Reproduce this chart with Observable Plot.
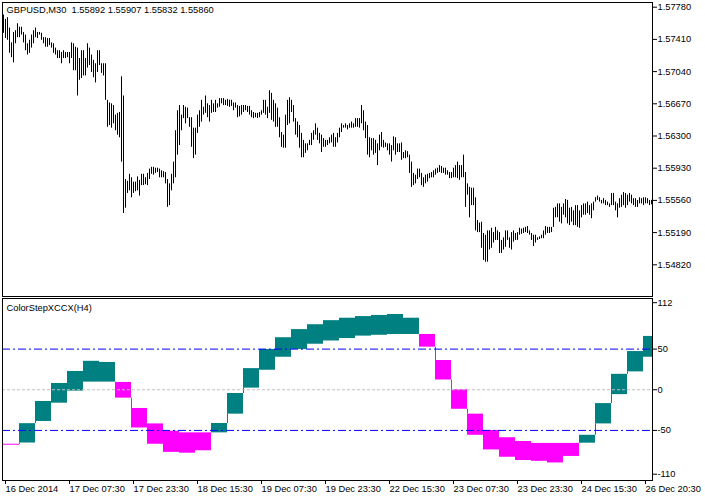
<!DOCTYPE html>
<html><head><meta charset="utf-8">
<script src="https://cdn.jsdelivr.net/npm/d3@7"></script>
<script src="https://cdn.jsdelivr.net/npm/@observablehq/plot@0.6"></script>
<style>
body{margin:0;background:#fff;}
#c{position:relative;width:705px;height:498px;background:#fff;overflow:hidden;}
#top,#bot{position:absolute;left:0;}
#top{top:0px}
#bot{top:296px}
svg{display:block}
</style></head><body>
<div id="c"><div id="top"></div><div id="bot"></div></div>
<script>
const symbolTitle = "GBPUSD,M30\u00a0\u00a01.55892 1.55907 1.55832 1.55860";
const indicatorTitle = "ColorStepXCCX(H4)";

// M30 bars: high / low
const high = [1.5769,1.5764,1.5766,1.5754,1.5737,1.5749,1.5751,1.5759,1.5755,1.5755,
1.5749,1.5746,1.5736,1.5740,1.5746,1.5751,1.5754,1.5749,1.5749,1.5748,
1.5743,1.5743,1.5742,1.5742,1.5737,1.5736,1.5731,1.5728,1.5728,1.5726,
1.5728,1.5726,1.5726,1.5726,1.5737,1.5736,1.5732,1.5731,1.5719,1.5728,
1.5728,1.5719,1.5736,1.5731,1.5723,1.5717,1.5713,1.5728,1.5728,1.5713,
1.5713,1.5713,1.5671,1.5668,1.5667,1.5665,1.5654,1.5656,1.5657,1.5698,
1.5676,1.5580,1.5578,1.5586,1.5582,1.5577,1.5577,1.5583,1.5579,1.5586,
1.5586,1.5582,1.5587,1.5592,1.5594,1.5594,1.5593,1.5593,1.5592,1.5590,
1.5589,1.5588,1.5580,1.5575,1.5586,1.5600,1.5636,1.5659,1.5665,1.5654,
1.5665,1.5663,1.5662,1.5651,1.5651,1.5639,1.5639,1.5654,1.5659,1.5671,
1.5663,1.5676,1.5667,1.5665,1.5671,1.5667,1.5671,1.5667,1.5673,1.5673,
1.5673,1.5671,1.5672,1.5671,1.5671,1.5668,1.5668,1.5665,1.5664,1.5665,
1.5665,1.5665,1.5664,1.5664,1.5659,1.5657,1.5656,1.5656,1.5657,1.5659,
1.5671,1.5671,1.5663,1.5682,1.5679,1.5671,1.5667,1.5662,1.5651,1.5634,
1.5631,1.5654,1.5671,1.5674,1.5671,1.5665,1.5650,1.5646,1.5642,1.5633,
1.5625,1.5621,1.5621,1.5625,1.5633,1.5636,1.5644,1.5639,1.5633,1.5631,
1.5627,1.5625,1.5625,1.5628,1.5631,1.5633,1.5628,1.5633,1.5639,1.5644,
1.5642,1.5644,1.5642,1.5644,1.5646,1.5644,1.5650,1.5650,1.5650,1.5665,
1.5659,1.5646,1.5642,1.5628,1.5627,1.5627,1.5625,1.5621,1.5631,1.5634,
1.5625,1.5622,1.5621,1.5621,1.5619,1.5629,1.5628,1.5621,1.5621,1.5622,
1.5611,1.5613,1.5612,1.5608,1.5600,1.5587,1.5585,1.5592,1.5592,1.5587,
1.5582,1.5585,1.5586,1.5587,1.5588,1.5590,1.5592,1.5593,1.5596,1.5595,
1.5593,1.5593,1.5590,1.5588,1.5588,1.5593,1.5596,1.5600,1.5596,1.5596,
1.5608,1.5588,1.5575,1.5571,1.5570,1.5570,1.5559,1.5533,1.5530,1.5531,
1.5518,1.5516,1.5521,1.5521,1.5524,1.5519,1.5525,1.5521,1.5519,1.5510,
1.5513,1.5521,1.5521,1.5513,1.5519,1.5521,1.5518,1.5519,1.5524,1.5523,
1.5524,1.5525,1.5526,1.5521,1.5518,1.5516,1.5516,1.5513,1.5514,1.5516,
1.5521,1.5526,1.5525,1.5525,1.5525,1.5547,1.5548,1.5552,1.5552,1.5548,
1.5552,1.5557,1.5556,1.5547,1.5548,1.5544,1.5550,1.5550,1.5544,1.5550,
1.5552,1.5552,1.5554,1.5550,1.5552,1.5554,1.5559,1.5561,1.5559,1.5556,
1.5558,1.5556,1.5554,1.5552,1.5564,1.5564,1.5554,1.5552,1.5558,1.5562,
1.5565,1.5564,1.5562,1.5564,1.5562,1.5558,1.5558,1.5556,1.5559,1.5558,
1.5559,1.5559,1.5558,1.5556,1.5556];
const low = [1.5748,1.5742,1.5740,1.5725,1.5720,1.5714,1.5736,1.5743,1.5743,1.5746,
1.5737,1.5728,1.5723,1.5725,1.5731,1.5736,1.5743,1.5742,1.5746,1.5740,
1.5736,1.5732,1.5732,1.5734,1.5731,1.5725,1.5723,1.5719,1.5719,1.5713,
1.5719,1.5719,1.5720,1.5713,1.5719,1.5705,1.5705,1.5676,1.5694,1.5696,
1.5699,1.5699,1.5708,1.5711,1.5703,1.5697,1.5691,1.5703,1.5711,1.5702,
1.5699,1.5671,1.5640,1.5642,1.5639,1.5644,1.5636,1.5631,1.5628,1.5600,
1.5541,1.5547,1.5564,1.5567,1.5559,1.5564,1.5566,1.5567,1.5561,1.5573,
1.5573,1.5574,1.5573,1.5580,1.5586,1.5585,1.5587,1.5588,1.5582,1.5582,
1.5582,1.5575,1.5548,1.5550,1.5567,1.5575,1.5582,1.5608,1.5619,1.5636,
1.5650,1.5644,1.5650,1.5640,1.5617,1.5604,1.5608,1.5633,1.5640,1.5646,
1.5654,1.5656,1.5651,1.5646,1.5656,1.5657,1.5657,1.5662,1.5663,1.5667,
1.5665,1.5665,1.5664,1.5663,1.5664,1.5659,1.5662,1.5651,1.5652,1.5654,
1.5657,1.5659,1.5657,1.5654,1.5651,1.5650,1.5651,1.5650,1.5651,1.5654,
1.5656,1.5654,1.5650,1.5656,1.5648,1.5646,1.5640,1.5640,1.5628,1.5617,
1.5616,1.5616,1.5642,1.5644,1.5657,1.5646,1.5631,1.5628,1.5616,1.5605,
1.5605,1.5610,1.5613,1.5619,1.5619,1.5625,1.5631,1.5625,1.5621,1.5611,
1.5617,1.5617,1.5619,1.5621,1.5622,1.5617,1.5617,1.5622,1.5628,1.5634,
1.5639,1.5639,1.5637,1.5639,1.5639,1.5639,1.5640,1.5640,1.5639,1.5644,
1.5636,1.5627,1.5608,1.5605,1.5613,1.5608,1.5610,1.5596,1.5613,1.5617,
1.5616,1.5617,1.5613,1.5608,1.5600,1.5613,1.5608,1.5611,1.5611,1.5602,
1.5604,1.5604,1.5605,1.5587,1.5571,1.5573,1.5575,1.5580,1.5582,1.5573,
1.5571,1.5575,1.5577,1.5581,1.5582,1.5582,1.5585,1.5587,1.5588,1.5587,
1.5587,1.5585,1.5585,1.5581,1.5581,1.5582,1.5582,1.5581,1.5579,1.5582,
1.5582,1.5548,1.5562,1.5536,1.5550,1.5550,1.5521,1.5519,1.5519,1.5501,
1.5487,1.5485,1.5485,1.5499,1.5501,1.5507,1.5510,1.5510,1.5495,1.5495,
1.5499,1.5502,1.5510,1.5501,1.5499,1.5508,1.5510,1.5510,1.5516,1.5517,
1.5518,1.5519,1.5518,1.5516,1.5510,1.5503,1.5507,1.5510,1.5511,1.5512,
1.5512,1.5516,1.5518,1.5518,1.5519,1.5525,1.5536,1.5536,1.5531,1.5529,
1.5539,1.5536,1.5529,1.5527,1.5531,1.5527,1.5527,1.5525,1.5524,1.5536,
1.5539,1.5539,1.5541,1.5539,1.5535,1.5544,1.5554,1.5556,1.5554,1.5552,
1.5552,1.5550,1.5550,1.5548,1.5550,1.5550,1.5544,1.5536,1.5547,1.5548,
1.5550,1.5547,1.5550,1.5554,1.5552,1.5550,1.5548,1.5548,1.5552,1.5552,
1.5550,1.5552,1.5552,1.5550,1.5551];
const priceTicks = [1.57780,1.57410,1.57040,1.56670,1.56300,1.55930,1.55560,1.55190,1.54820];

// H4 steps of ColorStepXCCX (upper / lower value of each step box, trend colour)
const stepHigh = [-67,-41.7,-14.4,7.7,22.5,35,33.6,9,-23,-42,-51,-53,-53,-41.5,-4.6,26,49.6,64,74,80,85,88,90,91.4,92.6,88,68,36,0,-30,-50,-59,-63.6,-66,-66,-66,-56,-17,19,47,65.6];
const stepLow = [-67,-65.5,-39,-16.5,-1.7,9.4,9.4,-10.3,-47,-67,-77,-78,-75,-53,-30,2,24,40,49.6,56,60,63,66,67,68,68,52.4,12,-24,-56,-74,-83,-87,-88,-90,-82,-65.7,-42,-6,22,40];
const stepTrend = ["down","up","up","up","up","up","up","down","down","down","down","down","down",
"up","up","up","up","up","up","up","up","up","up","up","up","up",
"down","down","down","down","down","down","down","down","down","down",
"up","up","up","up","up"];
const barsPerStep = 8;
const levelLines = [50, -50];
const zeroLine = [0];
const indTicks = [50, 0, -50];
const indTop = 112, indBottom = -110;

const timeTicks = [0,32,64,96,128,160,192,224,256,288,320];
const timeLabels = ["16 Dec 2014","17 Dec 07:30","17 Dec 23:30","18 Dec 15:30","19 Dec 07:30","19 Dec 23:30","22 Dec 15:30","23 Dec 07:30","23 Dec 23:30","24 Dec 15:30","26 Dec 20:30"];

const upColor = "#008080", downColor = "#ff00ff";
const font = "'Liberation Sans', Arial, sans-serif";

const n = high.length;
const bars = high.map((h, i) => ({i, high: h, low: low[i]}));
const steps = stepHigh.map((h, k) => ({
  x1: k * barsPerStep,
  x2: Math.min((k + 1) * barsPerStep, n - 0.5),
  hi: h, lo: stepLow[k],
  color: stepTrend[k] === "up" ? upColor : downColor
}));
const connectors = [];
for (let k = 1; k < steps.length; k++) {
  const p = steps[k - 1], c = steps[k];
  if (p.lo > c.hi) connectors.push({x: c.x1, y1: p.lo, y2: c.hi, color: c.color});
  else if (p.hi < c.lo) connectors.push({x: c.x1, y1: p.hi, y2: c.lo, color: c.color});
}

const xScale = {domain: [0, n - 1], range: [3, 3 + 2 * (n - 1)], axis: null};

const topPlot = Plot.plot({
  width: 705, height: 298,
  marginLeft: 2, marginRight: 53, marginTop: 2, marginBottom: 2,
  style: {fontFamily: font, fontSize: "9.3px", background: "transparent", color: "#000"},
  x: xScale,
  y: {domain: [1.54820, 1.57780], range: [264.3, 6.7], axis: null},
  marks: [
    Plot.ruleX(bars, {x: "i", y1: "low", y2: "high", stroke: "#000", strokeWidth: 1}),
    Plot.frame({stroke: "#000"}),
    Plot.axisY(priceTicks, {anchor: "right", tickSize: 4, tickPadding: 1, label: null, tickFormat: d => d.toFixed(5)}),
    Plot.text([symbolTitle], {frameAnchor: "top-left", textAnchor: "start", lineAnchor: "top", dx: 4, dy: 4, fill: "#000"})
  ]
});
document.getElementById("top").appendChild(topPlot);

const botPlot = Plot.plot({
  width: 705, height: 202,
  marginLeft: 2, marginRight: 53, marginTop: 2, marginBottom: 18,
  style: {fontFamily: font, fontSize: "9.3px", background: "transparent", color: "#000"},
  x: xScale,
  y: {domain: [indBottom, indTop], range: [182.7, 2.2], axis: null},
  color: {type: "identity"},
  marks: [
    Plot.rect(steps.filter(d => d.hi !== d.lo), {x1: "x1", x2: "x2", y1: "lo", y2: "hi", fill: "color"}),
    Plot.ruleY(steps.filter(d => d.hi === d.lo), {x1: "x1", x2: "x2", y: "hi", stroke: "color"}),
    Plot.ruleX(connectors, {x: "x", y1: "y1", y2: "y2", stroke: "color"}),
    Plot.ruleY(zeroLine, {stroke: "#c0c0c0", strokeDasharray: "3,2"}),
    Plot.ruleY(levelLines, {stroke: "#0000ff", strokeDasharray: "8,3,2,3"}),
    Plot.frame({stroke: "#000"}),
    Plot.axisY(indTicks, {anchor: "right", tickSize: 4, tickPadding: 1, label: null, tickFormat: d => String(d)}),
    Plot.axisY([indTop], {anchor: "right", tickSize: 4, tickPadding: 1, label: null, tickFormat: d => String(d), dy: 4}),
    Plot.axisY([indBottom], {anchor: "right", tickSize: 4, tickPadding: 1, label: null, tickFormat: d => String(d), dy: -5}),
    Plot.axisX(timeTicks, {anchor: "bottom", tickSize: 4, tickPadding: 1, label: null, textAnchor: "start", dx: 2,
      tickFormat: d => timeLabels[timeTicks.indexOf(d)]}),
    Plot.text([indicatorTitle], {frameAnchor: "top-left", textAnchor: "start", lineAnchor: "top", dx: 4, dy: 6, fill: "#000"})
  ]
});
document.getElementById("bot").appendChild(botPlot);
</script>
</body></html>
